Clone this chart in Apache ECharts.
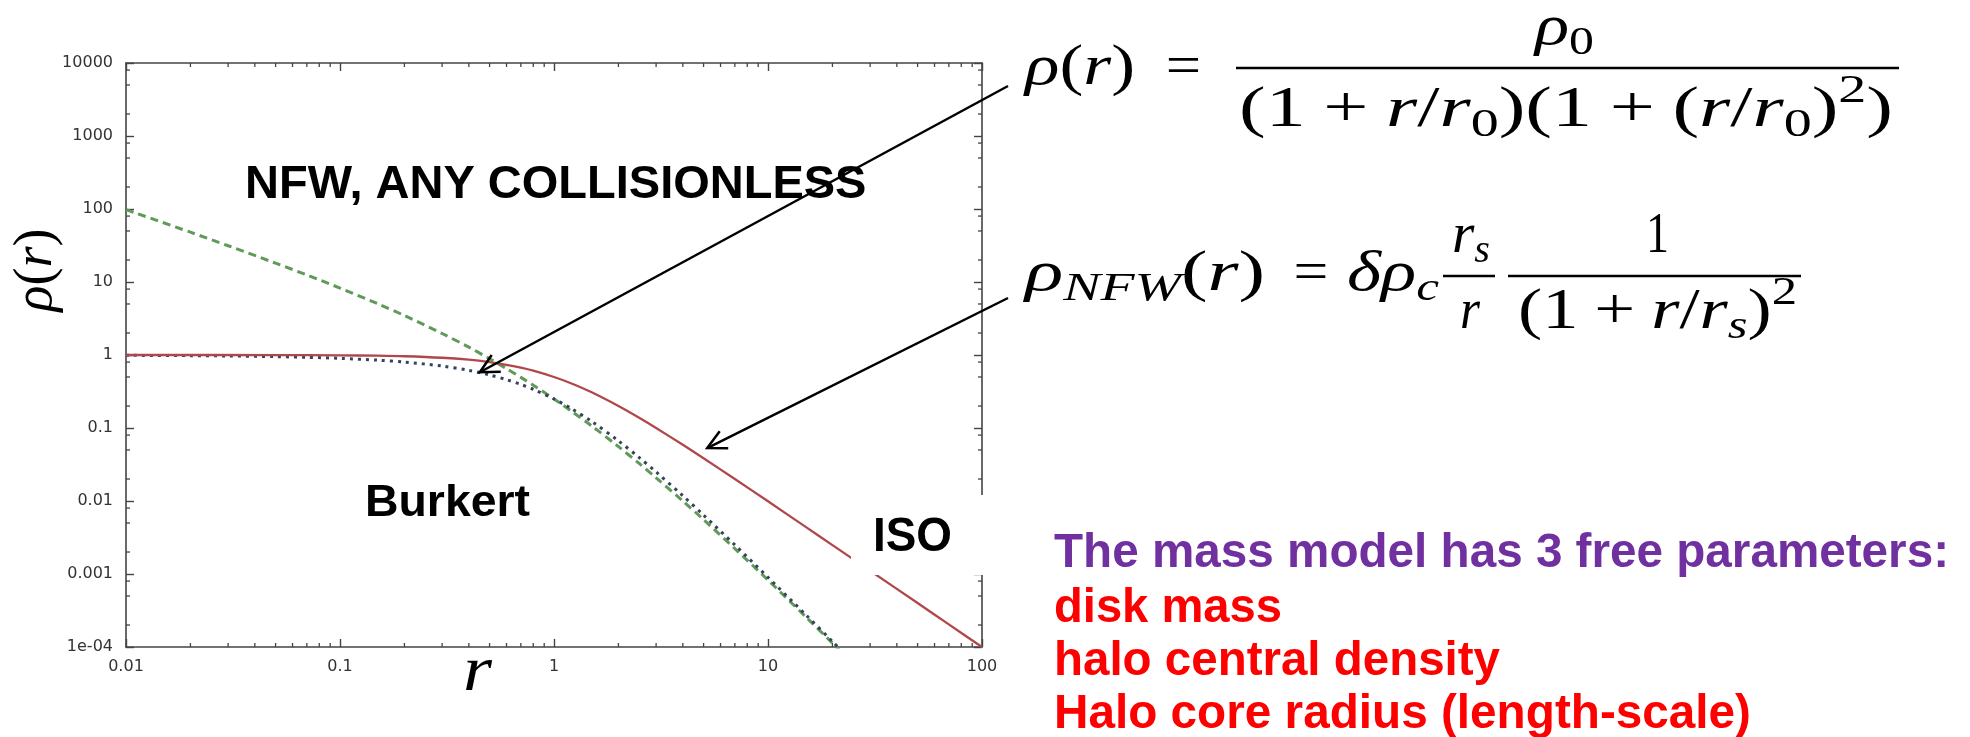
<!DOCTYPE html>
<html><head><meta charset="utf-8">
<script src="https://cdn.jsdelivr.net/npm/echarts@6/dist/echarts.min.js"></script>
<style>html,body{margin:0;padding:0;background:#fff}#c{width:1970px;height:737px}</style>
</head><body><div id="c"></div>
<script>
// ---- data ----
const radiusSteep = [0.01,0.02,0.03,0.05,0.07,0.1,0.15,0.2,0.3,0.4,0.5,0.6,0.7,0.8,1,1.2,1.5,2,2.5,3,4,5,7,10,15,20,22];
const nfwDensity = [98.0,48.1,31.4,18.1,12.5,8.26,5.04,3.47,1.97,1.28,0.889,0.651,0.494,0.386,0.25,0.172,0.107,0.0556,0.0327,0.0208,0.0100,0.00556,0.00223,0.000826,0.000260,0.000113,0.0000859];
const burkertDensity = [0.990,0.980,0.970,0.950,0.930,0.900,0.850,0.801,0.706,0.616,0.533,0.460,0.395,0.339,0.250,0.186,0.123,0.0667,0.0394,0.0250,0.0118,0.00641,0.00250,0.000900,0.000277,0.000119,0.0000896];
const radiusIso = [0.01,0.05,0.1,0.15,0.2,0.3,0.4,0.5,0.6,0.7,0.8,1,1.2,1.5,2,2.5,3,4,5,7,10,15,20,30,50,70,100];
const isoDensity = [1.000,0.998,0.990,0.978,0.962,0.917,0.862,0.800,0.735,0.671,0.610,0.500,0.410,0.308,0.200,0.138,0.100,0.0588,0.0385,0.0200,0.00990,0.00442,0.00249,0.00111,0.000400,0.000204,0.000100];

const xTickValues = [0.01,0.1,1,10,100];
const xTickLabels = ['0.01','0.1','1','10','100'];
const yTickValues = [0.0001,0.001,0.01,0.1,1,10,100,1000,10000];
const yTickLabels = ['1e-04','0.001','0.01','0.1','1','10','100','1000','10000'];
const xMinorTicks = [0.02,0.03,0.04,0.05,0.06,0.07,0.08,0.09,0.2,0.3,0.4,0.5,0.6,0.7,0.8,0.9,2,3,4,5,6,7,8,9,20,30,40,50,60,70,80,90];
const yMinorTicks = [0.0002,0.0005,0.0008,0.002,0.005,0.008,0.02,0.05,0.08,0.2,0.5,0.8,2,5,8,20,50,80,200,500,800,2000,5000,8000];

const labelNFW = 'NFW, ANY COLLISIONLESS';
const labelBurkert = 'Burkert';
const labelIso = 'ISO';
const noteTitle = 'The mass model has 3 free parameters:';
const noteLines = ['disk mass','halo central density','Halo core radius (length-scale)'];
const arrowTargets = [[0.45, 0.58],[5.2, 0.053]];

// ---- helpers ----
const SERIF = '"Liberation Serif","Times New Roman",serif';
const SANS = '"Liberation Sans",Arial,sans-serif';
const mctx = document.createElement('canvas').getContext('2d');
function measure(font, t){ mctx.font = font; mctx.textBaseline='alphabetic'; return mctx.measureText(t).width; }
function midShift(font){
  mctx.font = font; mctx.textBaseline = 'alphabetic';
  const a = mctx.measureText('x').actualBoundingBoxAscent;
  mctx.textBaseline = 'middle';
  const b = mctx.measureText('x').actualBoundingBoxAscent;
  mctx.textBaseline = 'alphabetic';
  return a - b;
}
function textEl(t, x, base, font, color, k, z){
  return {type:'text', x:x, y: base - midShift(font), scaleX: k || 1, z: z || 60, silent:true,
    style:{text:t, font:font, fill:color, textAlign:'left', textVerticalAlign:'middle', align:'left', verticalAlign:'middle'}};
}
function placeRun(items, x0, x1, base, size, color){
  const parts = items.map(function(it){
    const t = it[0], f = it[1] || '';
    const small = f.indexOf('b') >= 0 || f.indexOf('p') >= 0;
    const s = small ? size*0.7 : size;
    const font = (f.indexOf('i')>=0 ? 'italic ' : '') + s.toFixed(1) + 'px ' + SERIF;
    const gap = (t === '+' || t === '=') ? 0.22*size : 0;
    const dy = f.indexOf('b')>=0 ? 0.17*size : (f.indexOf('p')>=0 ? -0.42*size : 0);
    return {t:t, font:font, w:measure(font, t), gap:gap, dy:dy};
  });
  let nat = 0; parts.forEach(function(p){ nat += p.w + 2*p.gap; });
  const k = (x1 != null) ? (x1 - x0)/nat : 1;
  let x = x0; const els = [];
  parts.forEach(function(p){ x += p.gap*k; els.push(textEl(p.t, x, base + p.dy, p.font, color || '#000', k)); x += (p.w + p.gap)*k; });
  return els;
}
function sansText(t, x0, x1, base, size, color){
  const font = 'bold ' + size + 'px ' + SANS;
  const k = (x1 != null) ? (x1 - x0)/measure(font, t) : 1;
  return textEl(t, x0, base, font, color, k);
}
function hline(x1, x2, y, w){ return {type:'line', z:60, silent:true, shape:{x1:x1,y1:y,x2:x2,y2:y}, style:{stroke:'#000', lineWidth:w||2.4}}; }
function arrow(sx, sy, tx, ty){
  const ang = Math.atan2(sy-ty, sx-tx), L = 21, a = 27*Math.PI/180;
  return [
    {type:'line', z:70, silent:true, shape:{x1:sx,y1:sy,x2:tx,y2:ty}, style:{stroke:'#000', lineWidth:2.5}},
    {type:'polyline', z:70, silent:true, shape:{points:[[tx+L*Math.cos(ang+a), ty+L*Math.sin(ang+a)],[tx,ty],[tx+L*Math.cos(ang-a), ty+L*Math.sin(ang-a)]]}, style:{stroke:'#000', lineWidth:2.5, fill:null}}
  ];
}
function nearestLabel(v, vals, labs){
  let bi = 0, bd = Infinity;
  vals.forEach(function(t, i){ const d = Math.abs(Math.log10(v) - Math.log10(t)); if (d < bd){ bd = d; bi = i; } });
  return labs[bi];
}

const AX = '#444';
const axisLabelStyle = {fontFamily:'"DejaVu Sans",sans-serif', fontSize:16, color:'#333'};
function logAxis(kind, pos, show){
  const isX = kind === 'x';
  return {
    type:'log', logBase:10, position:pos,
    min: isX ? 0.01 : 0.0001, max: isX ? 100 : 10000, splitNumber: isX ? 4 : 8,
    axisLine:{show:true, onZero:false, lineStyle:{color:AX, width:1.6}},
    axisTick:{show:true, inside:true, length:8, lineStyle:{color:AX, width:1.4}},
    minorTick:{show:false}, splitLine:{show:false},
    axisLabel: show ? Object.assign({show:true, margin: isX ? 12 : 13, formatter:function(v){ return isX ? nearestLabel(v, xTickValues, xTickLabels) : nearestLabel(v, yTickValues, yTickLabels); }}, axisLabelStyle) : {show:false}
  };
}
function minorTickSeries(values, isX){
  return {
    type:'custom', coordinateSystem:'cartesian2d', xAxisIndex:0, yAxisIndex:0, silent:true, z:4, clip:false,
    data: values.map(function(v){ return isX ? [v, 1] : [1, v]; }),
    renderItem: function(params, api){
      const st = {stroke:AX, lineWidth:1.3};
      if (isX){
        const v = api.value(0); const b = api.coord([v, 0.0001]); const t = api.coord([v, 10000]);
        return {type:'group', children:[
          {type:'line', shape:{x1:b[0],y1:b[1],x2:b[0],y2:b[1]-4}, style:st},
          {type:'line', shape:{x1:t[0],y1:t[1],x2:t[0],y2:t[1]+4}, style:st}]};
      } else {
        const v = api.value(1); const l = api.coord([0.01, v]); const r = api.coord([100, v]);
        return {type:'group', children:[
          {type:'line', shape:{x1:l[0],y1:l[1],x2:l[0]+4,y2:l[1]}, style:st},
          {type:'line', shape:{x1:r[0],y1:r[1],x2:r[0]-4,y2:r[1]}, style:st}]};
      }
    }
  };
}

const chart = echarts.init(document.getElementById('c'), null, {renderer:'canvas'});
chart.setOption({
  animation:false,
  backgroundColor:'#fff',
  grid:{left:126, right:988, top:63, bottom:90, containLabel:false, outerBoundsMode:'none'},
  xAxis:[logAxis('x','bottom',true), logAxis('x','top',false)],
  yAxis:[logAxis('y','left',true), logAxis('y','right',false)],
  series:[
    {type:'line', name:'NFW', xAxisIndex:0, yAxisIndex:0, data: radiusSteep.map(function(r,i){ return [r, nfwDensity[i]]; }),
     symbol:'none', smooth:0.3, clip:true, z:3, lineStyle:{color:'#5f9a58', width:3, type:[8,5]}},
    {type:'line', name:'Burkert', xAxisIndex:0, yAxisIndex:0, data: radiusSteep.map(function(r,i){ return [r, burkertDensity[i]]; }),
     symbol:'none', smooth:0.3, clip:true, z:3, lineStyle:{color:'#33435c', width:3, type:[3,5]}},
    {type:'line', name:'ISO', xAxisIndex:0, yAxisIndex:0, data: radiusIso.map(function(r,i){ return [r, isoDensity[i]]; }),
     symbol:'none', smooth:0.3, clip:true, z:3, lineStyle:{color:'#b0474a', width:2.3}},
    minorTickSeries(xMinorTicks, true),
    minorTickSeries(yMinorTicks, false)
  ]
});

// ---- annotations ----
const g = [];
// axis names
g.push({type:'text', x:37, y:270, rotation:Math.PI/2, z:60, silent:true,
  style:{text:'{i|ρ}{u|(}{i|r}{u|)}', textAlign:'center', textVerticalAlign:'middle', align:'center', verticalAlign:'middle',
    font:'54px ' + SERIF, fill:'#000',
    rich:{i:{fontStyle:'italic', fontSize:54, fontFamily:SERIF, fill:'#000'}, u:{fontSize:54, fontFamily:SERIF, fill:'#000'}}}});
placeRun([['r','i']], 463, 492, 690, 64).forEach(function(e){ g.push(e); });

// labels inside plot
g.push(sansText(labelNFW, 245, null, 198, 47, '#000'));
g.push(sansText(labelBurkert, 365, 530, 516, 45, '#000'));
g.push({type:'rect', z:50, silent:true, shape:{x:851, y:495, width:135, height:80}, style:{fill:'#fff'}});
g.push(sansText(labelIso, 873, 952, 551, 48, '#000'));

// notes
g.push(sansText(noteTitle, 1054, 1949, 567, 48, '#7030a0'));
g.push(sansText(noteLines[0], 1054, 1282, 622, 48, '#ff0000'));
g.push(sansText(noteLines[1], 1054, 1500, 675, 48, '#ff0000'));
g.push(sansText(noteLines[2], 1054, 1751, 728, 48, '#ff0000'));

// formula 1 : Burkert
const F = 56;
[].concat(
  placeRun([['ρ','i'],['('],['r','i'],[')']], 1025, 1135, 84, F),
  placeRun([['=']], 1152, 1215, 84, F),
  placeRun([['ρ','i'],['0','b']], 1535, 1594, 44, F),
  placeRun([['('],['1'],['+'],['r','i'],['/'],['r','i'],['0','b'],[')'],['('],['1'],['+'],['('],['r','i'],['/'],['r','i'],['0','b'],[')'],['2','p'],[')']], 1239, 1893, 126, F),
  // formula 2 : NFW
  placeRun([['ρ','i'],['NFW','bi'],['('],['r','i'],[')']], 1025, 1265, 290, F),
  placeRun([['=']], 1280, 1342, 290, F),
  placeRun([['δ','i'],['ρ','i'],['c','bi']], 1347, 1439, 290, F),
  placeRun([['r','i'],['s','bi']], 1452, 1490, 252, F),
  placeRun([['r','i']], 1460, 1480, 328, F),
  placeRun([['1']], 1646, 1669, 252, F),
  placeRun([['('],['1'],['+'],['r','i'],['/'],['r','i'],['s','bi'],[')'],['2','p']], 1518, 1797, 328, F)
).forEach(function(e){ g.push(e); });
g.push(hline(1236, 1899, 68, 2.6));
g.push(hline(1443, 1495, 276, 2.4));
g.push(hline(1508, 1801, 276, 2.4));

// arrows: tips anchored to data positions on the curves
const tip1 = chart.convertToPixel({xAxisIndex:0, yAxisIndex:0}, arrowTargets[0]);
const tip2 = chart.convertToPixel({xAxisIndex:0, yAxisIndex:0}, arrowTargets[1]);
arrow(1008, 86, tip1[0], tip1[1]).forEach(function(e){ g.push(e); });
arrow(1008, 298, tip2[0], tip2[1]).forEach(function(e){ g.push(e); });

chart.setOption({graphic:{elements:g}});
</script></body></html>
